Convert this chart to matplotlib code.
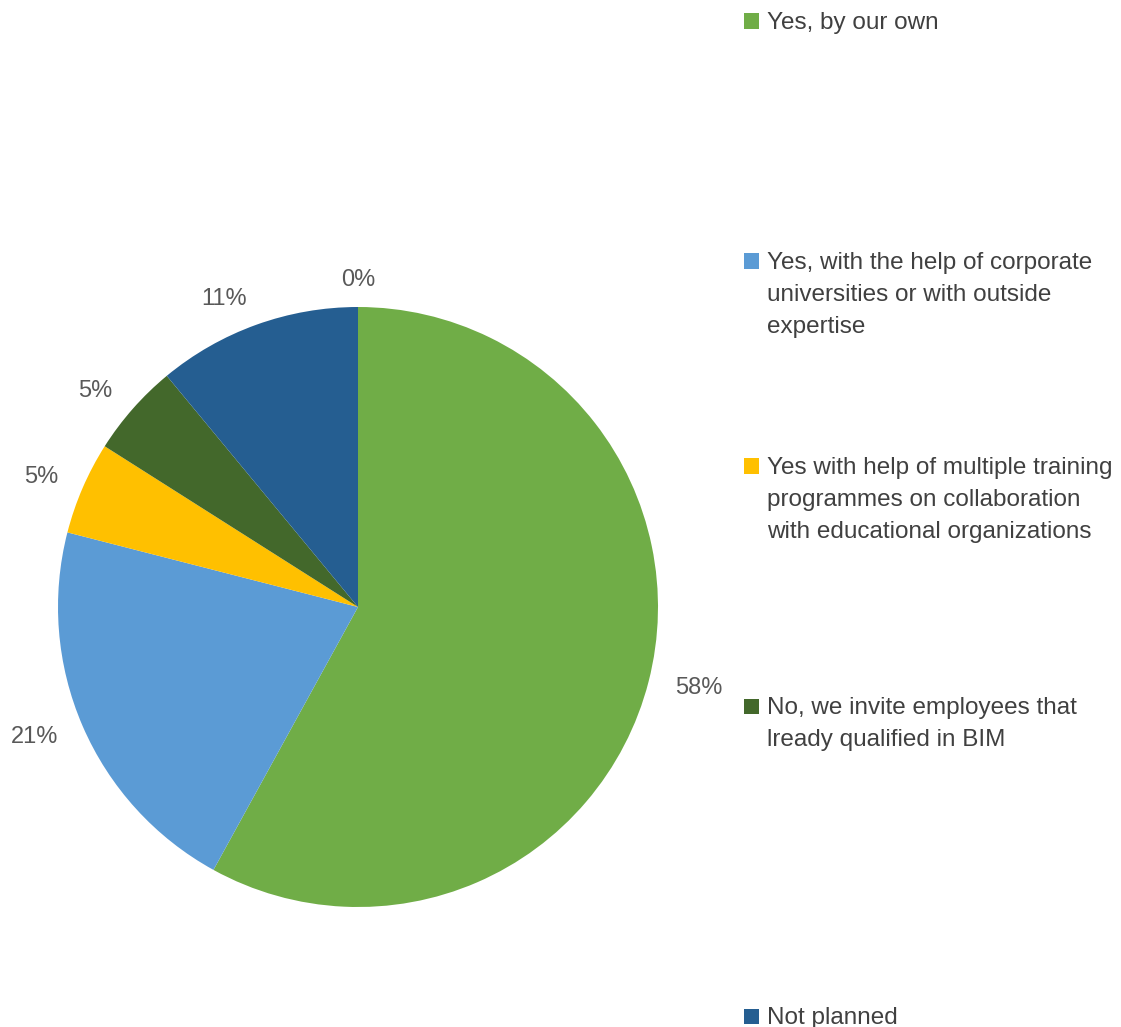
import matplotlib
matplotlib.use("Agg")
import matplotlib.pyplot as plt
from matplotlib.patches import Rectangle

plt.rcParams['font.family'] = ['Liberation Sans', 'DejaVu Sans']

# Survey answers: is BIM training for staff planned?
categories = [
    "Yes, by our own",
    "Yes, with the help of corporate\nuniversities or with outside\nexpertise",
    "Yes with help of multiple training\nprogrammes on collaboration\nwith educational organizations",
    "No, we invite employees that\nlready qualified in BIM",
    "Not planned",
]
shares = [58, 21, 5, 5, 11, 0]  # percent; last share is an empty answer
colors = ["#70AD47", "#5B9BD5", "#FFC000", "#43682B", "#255E91", "#9E480E"]
pct_labels = [f"{v}%" for v in shares]

W, H = 1121, 1027
fig = plt.figure(figsize=(W / 100, H / 100), dpi=100)
fig.patch.set_facecolor("white")

# pie: centre (358, 607) px, radius 300 px
cx, cy, r = 358, 607, 300
ax = fig.add_axes([(cx - r) / W, (H - cy - r) / H, 2 * r / W, 2 * r / H])
wedges, texts = ax.pie(
    shares, colors=colors, labels=pct_labels, startangle=90,
    counterclock=False, labeldistance=1.09, radius=1,
    textprops=dict(fontsize=17, color="#595959"),
)
for t in texts:
    x, _ = t.get_position()
    if abs(x) < 0.05:
        t.set_horizontalalignment("center")
ax.set_xlim(-1, 1)
ax.set_ylim(-1, 1)
ax.set_aspect("equal")
ax.axis("off")

# legend column on the right, one entry per answer
entry_y = [21, 261, 466, 706, 1016]   # px, centre of first line
mx, msize = 744, 15
tx = 767
for lab, col, yc in zip(categories, colors, entry_y):
    fig.add_artist(Rectangle(((mx) / W, (H - yc - msize / 2) / H),
                             msize / W, msize / H, transform=fig.transFigure,
                             facecolor=col, edgecolor="none"))
    fig.text(tx / W, (H - yc + 9) / H, lab, fontsize=17.5, color="#404040",
             va="top", ha="left", linespacing=1.58)

fig.savefig("out.png", dpi=100, facecolor="white")
